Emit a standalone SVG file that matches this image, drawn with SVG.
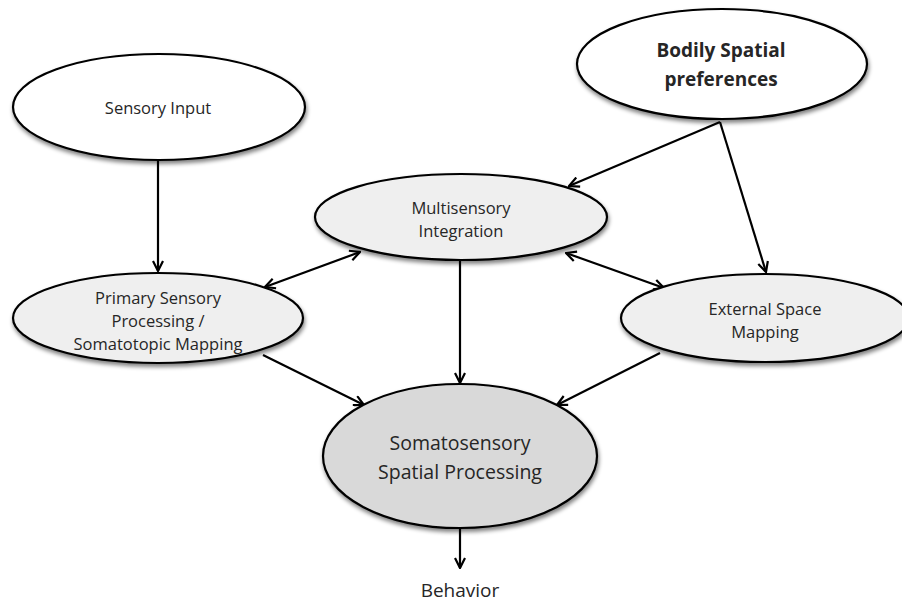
<svg xmlns="http://www.w3.org/2000/svg" width="902" height="603" viewBox="0 0 902 603">
<style>
.node{stroke:#000;stroke-width:2.2;filter:url(#sh)}
.t{font-family:"Open Sans","Liberation Sans",sans-serif;fill:#262626;text-anchor:middle}
.c{stroke:#000;stroke-width:2.2;fill:none;marker-end:url(#ah)}
.d{marker-start:url(#ahs)}
</style>
<defs>
<filter id="sh" x="-10%" y="-10%" width="125%" height="130%">
<feGaussianBlur in="SourceAlpha" stdDeviation="2"/>
<feOffset dx="1" dy="3" result="b"/>
<feComponentTransfer><feFuncA type="linear" slope="0.5"/></feComponentTransfer>
<feMerge><feMergeNode/><feMergeNode in="SourceGraphic"/></feMerge>
</filter>
<marker id="ah" viewBox="0 0 12 12" refX="11" refY="6" markerWidth="12" markerHeight="12" markerUnits="userSpaceOnUse" orient="auto">
<path d="M1,1 L11,6 L1,11" fill="none" stroke="#000" stroke-width="2.2"/>
</marker>
<marker id="ahs" viewBox="0 0 12 12" refX="1" refY="6" markerWidth="12" markerHeight="12" markerUnits="userSpaceOnUse" orient="auto">
<path d="M11,1 L1,6 L11,11" fill="none" stroke="#000" stroke-width="2.2"/>
</marker>
</defs>
<rect width="902" height="603" fill="#fff"/>
<g id="connectors">
<line class="c" x1="158" y1="161" x2="158" y2="271"/>
<line class="c" x1="720" y1="122" x2="569" y2="186"/>
<line class="c" x1="720" y1="122" x2="766" y2="272"/>
<line class="c d" x1="265" y1="287" x2="360" y2="252"/>
<line class="c d" x1="566" y1="253" x2="664" y2="288"/>
<line class="c" x1="460" y1="261" x2="460" y2="383"/>
<line class="c" x1="263" y1="355" x2="364" y2="405"/>
<line class="c" x1="660" y1="353" x2="557" y2="405"/>
<line class="c" x1="460" y1="529" x2="460" y2="568"/>
</g>
<g id="sensory-input">
<ellipse class="node" cx="159" cy="107" rx="146" ry="53" fill="#fff"/>
<text class="t" x="158" y="114" font-size="16.5">Sensory Input</text>
</g>
<g id="bodily-spatial">
<ellipse class="node" cx="722" cy="64" rx="145" ry="55" fill="#fff"/>
<text class="t" x="721" y="57" font-size="19" font-weight="bold">Bodily Spatial</text>
<text class="t" x="721" y="86" font-size="19" font-weight="bold">preferences</text>
</g>
<g id="multisensory">
<ellipse class="node" cx="461" cy="217" rx="146" ry="43" fill="#efefef"/>
<text class="t" x="461" y="214" font-size="16.5">Multisensory</text>
<text class="t" x="461" y="237" font-size="16.5">Integration</text>
</g>
<g id="primary">
<ellipse class="node" cx="158" cy="318" rx="145" ry="45" fill="#efefef"/>
<text class="t" x="158" y="304" font-size="16.5">Primary Sensory</text>
<text class="t" x="158" y="327" font-size="16.5">Processing /</text>
<text class="t" x="158" y="350" font-size="16.5">Somatotopic Mapping</text>
</g>
<g id="external">
<ellipse class="node" cx="765" cy="318" rx="144" ry="44" fill="#efefef"/>
<text class="t" x="765" y="315" font-size="16.5">External Space</text>
<text class="t" x="765" y="338" font-size="16.5">Mapping</text>
</g>
<g id="somatosensory">
<ellipse class="node" cx="460" cy="456" rx="137" ry="72" fill="#d9d9d9"/>
<text class="t" x="460" y="450" font-size="19.5">Somatosensory</text>
<text class="t" x="460" y="479" font-size="19.5">Spatial Processing</text>
</g>
<g id="behavior">
<text class="t" x="460" y="597" font-size="19">Behavior</text>
</g>
</svg>
